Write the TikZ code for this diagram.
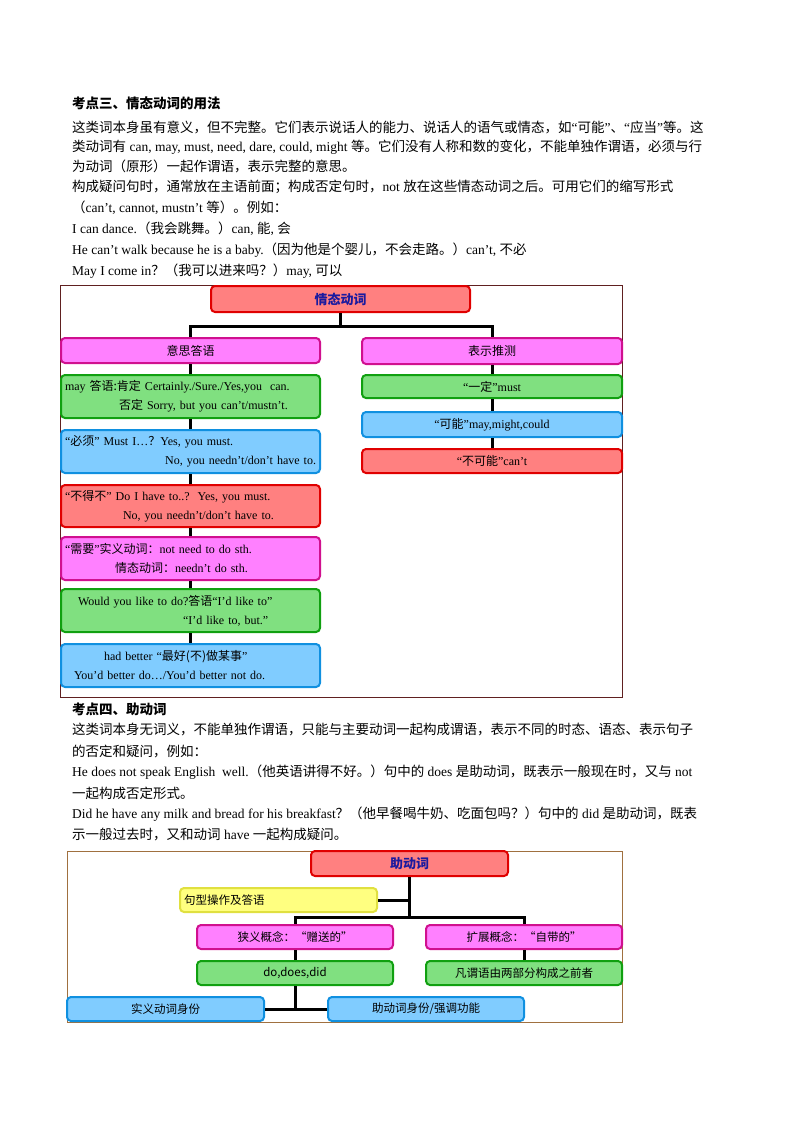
\documentclass[tikz,border=0pt]{standalone}
\usepackage{fontspec}
\setmainfont{Liberation Serif}
\newfontfamily\cjk{Noto Sans CJK SC}
\newcommand\z[1]{{\cjk #1}}
\definecolor{rF}{HTML}{FF8080}\definecolor{rD}{HTML}{E00000}
\definecolor{mF}{HTML}{FF80FF}\definecolor{mD}{HTML}{D0108F}
\definecolor{gF}{HTML}{80E080}\definecolor{gD}{HTML}{10A010}
\definecolor{bF}{HTML}{80CCFF}\definecolor{bD}{HTML}{1090E0}
\definecolor{yF}{HTML}{FFFF80}\definecolor{yD}{HTML}{E0E040}
\definecolor{ttl}{HTML}{1A1A9F}
\definecolor{frm}{HTML}{602020}
\definecolor{frm2}{HTML}{A0703F}
\newcommand\bx[7]{\pgfmathsetmacro\bw{#5-#3}\pgfmathsetmacro\bh{#6-#4}\pgfmathsetmacro\tw{#5-#3-8}%
\node[#2, minimum width=\bw pt, minimum height=\bh pt, text width=\tw pt] (#1) at ({(#3+#5)/2},{(#4+#6)/2}) {#7};}
\begin{document}
\begin{tikzpicture}[x=1pt,y=-1pt,
  txt/.style={anchor=west,inner sep=0pt,font=\fontsize{13.5}{20}\selectfont},
  ttlt/.style={txt,font=\fontsize{13.5}{20}\selectfont\cjk\bfseries},
  box/.style={rounded corners=4pt,line width=2pt,inner sep=3pt,align=center,font=\fontsize{12}{19}\selectfont},
  sbox/.style={font=\fontsize{11.5}{18}\selectfont\cjk},
  rbox/.style={box,draw=rD,fill=rF},
  mbox/.style={box,draw=mD,fill=mF},
  gbox/.style={box,draw=gD,fill=gF},
  bbox/.style={box,draw=bD,fill=bF},
  ybox/.style={box,draw=yD,fill=yF},
  conn/.style={line width=3pt,black}]
\useasboundingbox[fill=white] (0,0) rectangle (794,1123);
% section 1 text
\node[ttlt] (t1) at (72,103) {考点三、情态动词的用法};
\node[txt] (p1) at (72,127) {\z{这类词本身虽有意义，但不完整。它们表示说话人的能力、说话人的语气或情态，如}“\z{可能}”\z{、}“\z{应当}”\z{等。这}};
\node[txt] (p2) at (72,147) {\z{类动词有} can, may, must, need, dare, could, might \z{等。它们没有人称和数的变化，不能单独作谓语，必须与行}};
\node[txt] (p3) at (72,166) {\z{为动词（原形）一起作谓语，表示完整的意思。}};
\node[txt] (p4) at (72,187) {\z{构成疑问句时，通常放在主语前面；构成否定句时，}not \z{放在这些情态动词之后。可用它们的缩写形式}};
\node[txt] (p5) at (72,208) {\z{（}can’t, cannot, mustn’t \z{等）。例如：}};
\node[txt] (p6) at (72,229) {I can dance.\z{（我会跳舞。）}can, \z{能}, \z{会}};
\node[txt] (p7) at (72,250) {He can’t walk because he is a baby.\z{（因为他是个婴儿，不会走路。）}can’t, \z{不必}};
\node[txt] (p8) at (72,271) {May I come in\z{？（我可以进来吗？）}may, \z{可以}};
% diagram 1
\draw[frm,line width=0.8pt] (60,285) rectangle (622,697);
\bx{top}{rbox,font=\fontsize{13}{19}\selectfont\cjk\bfseries,text=ttl}{211}{286}{470}{312}{情态动词}
\bx{L1}{mbox}{61}{338}{320}{363}{\z{意思答语}}
\bx{L2}{gbox,align=left}{61}{375}{320}{418}{may \z{答语:肯定} Certainly./Sure./Yes,you\ \ can.\\\hspace*{54pt}\z{否定} Sorry, but you can’t/mustn’t.}
\bx{L3}{bbox,align=left}{61}{430}{320}{473}{“\z{必须}” Must I…\z{？}Yes, you must.\\\hfill No, you needn’t/don’t have to.}
\bx{L4}{rbox,align=left}{61}{485}{320}{527}{“\z{不得不}” Do I have to..?\ \ Yes, you must.\\\hspace*{58pt}No, you needn’t/don’t have to.}
\bx{L5}{mbox,align=left}{61}{537}{320}{580}{“\z{需要}”\z{实义动词：}not need to do sth.\\\hspace*{50pt}\z{情态动词：}needn’t do sth.}
\bx{L6}{gbox,align=left}{61}{589}{320}{632}{\hspace*{13pt}Would you like to do?\z{答语}“I’d like to”\\\hspace*{118pt}“I’d like to, but.”}
\bx{L7}{bbox,align=left}{61}{644}{320}{687}{\hspace*{39pt}had better “\z{最好(不)做某事}”\\\hspace*{9pt}You’d better do…/You’d better not do.}
\bx{R1}{mbox}{362}{338}{622}{364}{\z{表示推测}}
\bx{R2}{gbox}{362}{375}{622}{398}{“\z{一定}”must}
\bx{R3}{bbox}{362}{412}{622}{437}{“\z{可能}”may,might,could}
\bx{R4}{rbox}{362}{449}{622}{473}{“\z{不可能}”can’t}
\draw[conn] (top.south) -- ++(0,13) coordinate (j1);
\draw[conn] (j1) -| (L1.north);
\draw[conn] (j1) -| (R1.north);
\foreach \a/\b in {L1/L2,L2/L3,L3/L4,L4/L5,L5/L6,L6/L7,R1/R2,R2/R3,R3/R4}
  \draw[conn] (\a.south) -- (\b.north);
% section 2 text
\node[ttlt] (t2) at (72,709) {考点四、助动词};
\node[txt] (q1) at (72,730) {\z{这类词本身无词义，不能单独作谓语，只能与主要动词一起构成谓语，表示不同的时态、语态、表示句子}};
\node[txt] (q2) at (72,751) {\z{的否定和疑问，例如：}};
\node[txt] (q3) at (72,772) {He does not speak English\ \ well.\z{（他英语讲得不好。）句中的} does \z{是助动词，既表示一般现在时，又与} not};
\node[txt] (q4) at (72,793) {\z{一起构成否定形式。}};
\node[txt] (q5) at (72,814) {Did he have any milk and bread for his breakfast\z{？（他早餐喝牛奶、吃面包吗？）句中的} did \z{是助动词，既表}};
\node[txt] (q6) at (72,835) {\z{示一般过去时，又和动词} have \z{一起构成疑问。}};
% diagram 2
\draw[frm2,line width=0.8pt] (67,851) rectangle (622,1022);
\bx{T2}{rbox,font=\fontsize{13}{19}\selectfont\cjk\bfseries,text=ttl}{311}{851}{508}{876}{助动词}
\bx{Y}{ybox,sbox,align=left}{180}{888}{377}{912}{句型操作及答语}
\bx{N}{mbox,sbox}{197}{925}{393}{949}{狭义概念：“赠送的”}
\bx{E}{mbox,sbox}{426}{925}{622}{949}{扩展概念：“自带的”}
\bx{D}{gbox,sbox}{197}{961}{393}{985}{do,does,did}
\bx{F}{gbox,sbox}{426}{961}{622}{985}{凡谓语由两部分构成之前者}
\bx{S}{bbox,sbox}{67}{997}{264}{1021}{实义动词身份}
\bx{Z}{bbox,sbox}{328}{997}{524}{1021}{助动词身份/强调功能}
\draw[conn] (T2.south) -- ++(0,40) coordinate (j2);
\draw[conn] (Y.east) -| (T2.south);
\draw[conn] (j2) -| (N.north);
\draw[conn] (j2) -| (E.north);
\draw[conn] (N.south) -- (D.north);
\draw[conn] (E.south) -- (F.north);
\draw[conn] (D.south) |- (S.east);
\draw[conn] (S.east) -- (Z.west);
\end{tikzpicture}
\end{document}
